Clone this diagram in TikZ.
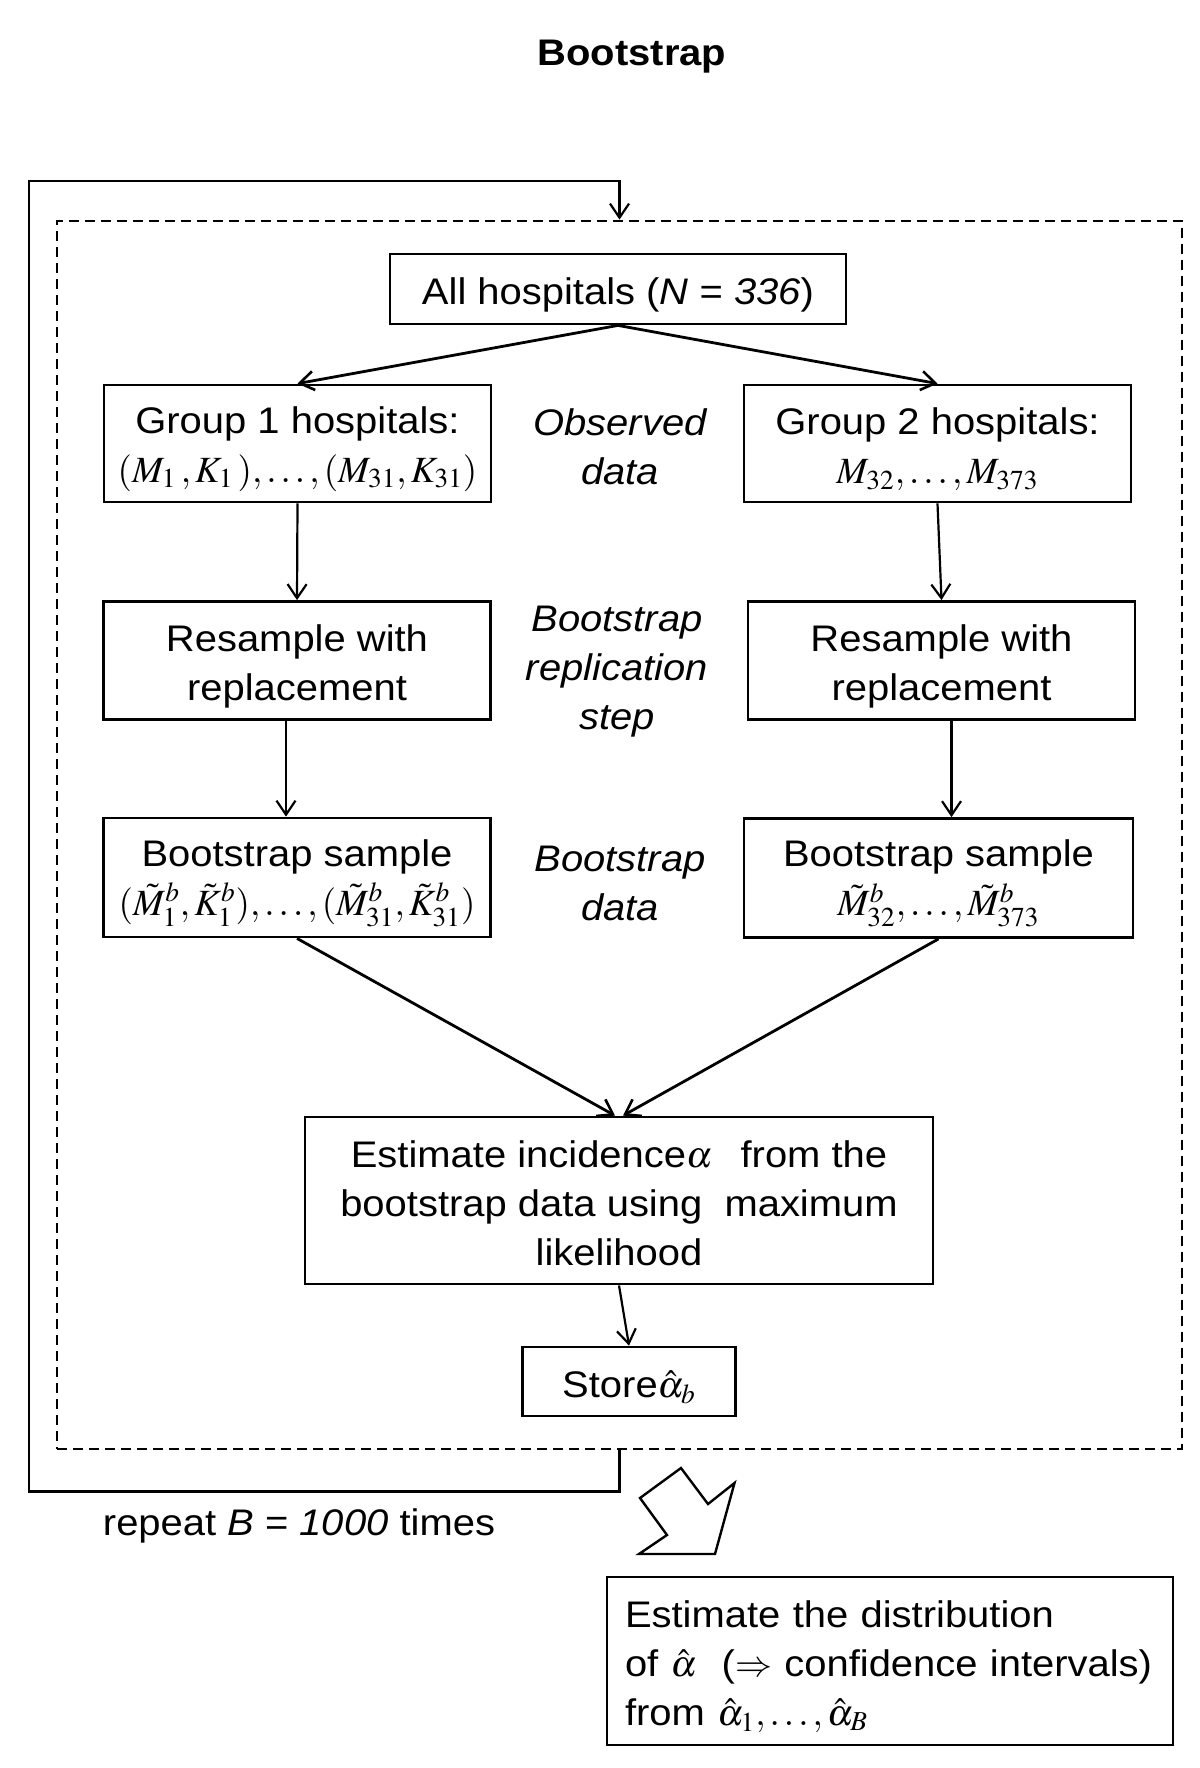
\documentclass[tikz,border=0pt]{standalone}
\usepackage{mathptmx}
\usepackage[no-math]{fontspec}
\setmainfont{Liberation Sans}[FakeStretch=1.08]
\usetikzlibrary{arrows.meta}
\newcommand\myfs{\fontsize{18.5}{24.5}\selectfont}
\newcommand\mathfs{\fontsize{18.5}{24.5}\selectfont}
\newcommand\tstrut[1][19pt]{\rule{0pt}{#1}}
\tikzset{
  box/.style={draw, line width=1.4pt, rectangle, inner sep=0pt, align=center, font=\myfs},
  lbl/.style={align=center, font=\myfs\itshape, inner sep=0pt},
  arr/.style={line width=1.1pt, -{Straight Barb[length=7pt,width=9.5pt,line width=1.1pt]}},
  darr/.style={line width=1.4pt, -{Straight Barb[length=7pt,width=9.5pt,line width=1.3pt]}},
  frame/.style={draw, line width=1.4pt, dash pattern=on 5pt off 3pt, inner sep=0pt},
  loopline/.style={line width=1.4pt, -{Straight Barb[length=7pt,width=9.5pt,line width=1.1pt]}},
  blockarrow/.style={draw, line width=1.2pt, line join=miter},
}
\begin{document}
\begin{tikzpicture}[x=0.5pt,y=-0.5pt]
\useasboundingbox (0,0) rectangle (1200,1768);
% title
\node[font=\myfs\bfseries, anchor=base, inner sep=0pt] (title) at (632,65) {Bootstrap};
% dashed frame
\node[frame, minimum width=562.5pt, minimum height=614pt] (frame) at (619.5,835) {};
% boxes
\node[box, minimum width=228pt, minimum height=35pt] (all) at (618,289) {\tstrut All hospitals (\textit{N} = \textit{336})};
\node[box, minimum width=193.5pt, minimum height=58.5pt] (g1) at (297.5,443.5)
  {\tstrut Group 1 hospitals:\\{\mathfs$(M_{1}\,,K_{1}\,),\ldots,(M_{31},K_{31})$}};
\node[box, minimum width=193.5pt, minimum height=58.5pt] (g2) at (937.5,443.5)
  {\tstrut Group 2 hospitals:\\{\mathfs$M_{32},\ldots,M_{373}$}};
\node[box, minimum width=193.5pt, minimum height=59pt] (r1) at (297,660.5) {\tstrut Resample with\\replacement};
\node[box, minimum width=193.5pt, minimum height=59pt] (r2) at (941.5,660.5) {\tstrut Resample with\\replacement};
\node[box, minimum width=193.5pt, minimum height=59.5pt] (s1) at (297,877.5)
  {\tstrut Bootstrap sample\\{\mathfs$(\tilde{M}^{b}_{1},\tilde{K}^{b}_{1}),\ldots,(\tilde{M}^{b}_{31},\tilde{K}^{b}_{31})$}};
\node[box, minimum width=194.5pt, minimum height=59.5pt] (s2) at (938.5,878)
  {\tstrut Bootstrap sample\\{\mathfs$\tilde{M}^{b}_{32},\ldots,\tilde{M}^{b}_{373}$}};
\node[box, minimum width=314pt, minimum height=83.5pt] (est) at (619,1200.5)
  {\tstrut[16pt]Estimate incidence$\alpha$\hspace{14pt}from the\\bootstrap data using\ \ maximum\\likelihood};
\node[box, minimum width=106.5pt, minimum height=34.5pt] (store) at (629,1381.5) {\tstrut Store$\hat{\alpha}_{b}$};
\node[box, minimum height=84pt, text width=265pt, inner xsep=9pt, align=left] (final) at (890,1661)
  {\tstrut Estimate the distribution\\of $\hat{\alpha}$\ \ ($\Rightarrow$ confidence intervals)\\from $\hat{\alpha}_{1},\ldots,\hat{\alpha}_{B}$};
% labels
\node[lbl] (obs) at (620,447) {Observed\\data};
\node[lbl] (rep) at (617,672) {Bootstrap\\replication\\step};
\node[lbl] (bdata) at (620,883) {Bootstrap\\data};
\node[font=\myfs, anchor=base, inner sep=0pt] (repeat) at (299,1535) {repeat \textit{B} = \textit{1000} times};
% connectors
\draw[darr] (all.south) -- (g1.north);
\draw[darr] (all.south) -- (g2.north);
\draw[arr] (g1.south) -- (r1.north);
\draw[arr] (g2.south) -- (r2.north);
\draw[arr] ([xshift=-5.5pt]r1.south) -- ([xshift=-5.5pt]r1.south |- s1.north);
\draw[arr] ([xshift=5pt]r2.south) -- ([xshift=5pt]r2.south |- s2.north);
\draw[darr] (s1.south) -- ([xshift=-2pt]est.north);
\draw[darr] (s2.south) -- ([xshift=2pt]est.north);
\draw[arr] (est.south) -- (store.north);
% repeat loop
\coordinate (loopTL) at (29,181);
\draw[loopline] (frame.south) -- ++(0,41) -| (loopTL) -| (frame.north);
% block arrow
\coordinate (ba1) at (681,1468);
\coordinate (ba2) at (708,1504);
\coordinate (ba3) at (734.5,1483);
\coordinate (ba4) at (715,1554);
\coordinate (ba5) at (639,1554);
\coordinate (ba6) at (667,1535);
\coordinate (ba7) at (640,1498);
\draw[blockarrow] (ba1) -- (ba2) -- (ba3) -- (ba4) -- (ba5) -- (ba6) -- (ba7) -- cycle;
\end{tikzpicture}
\end{document}
